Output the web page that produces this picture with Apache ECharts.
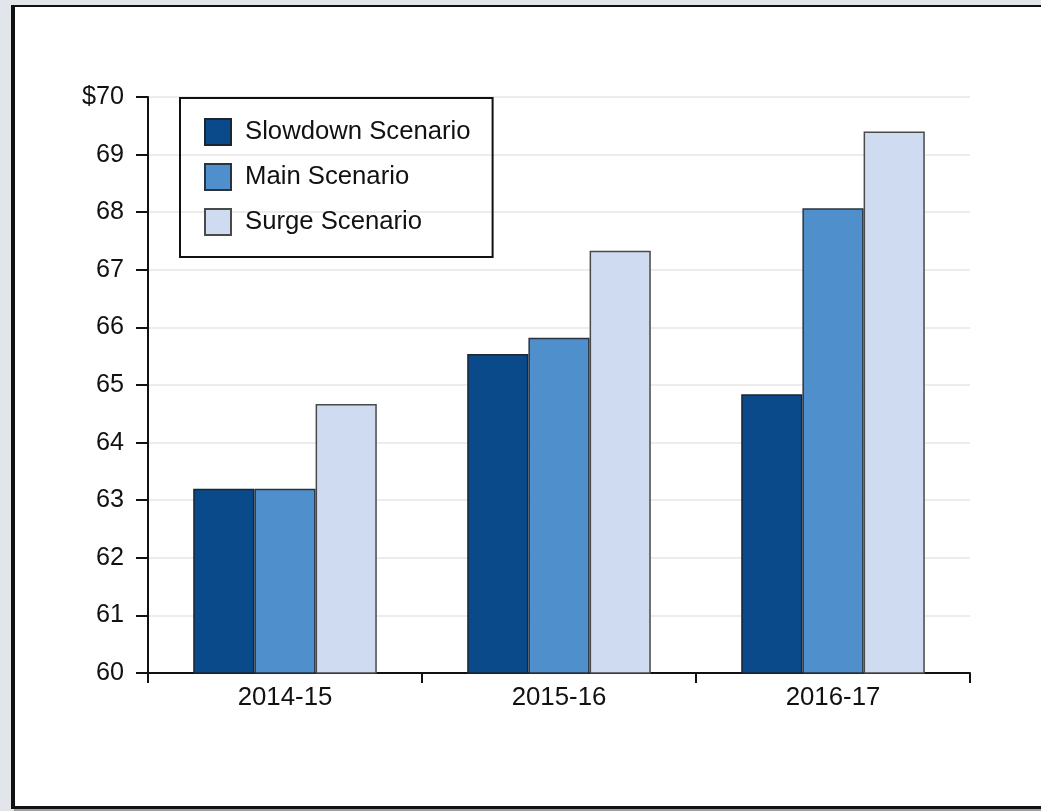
<!DOCTYPE html>
<html>
<head>
<meta charset="utf-8">
<script src="https://cdn.jsdelivr.net/npm/echarts@6/dist/echarts.min.js"></script>
<style>
  html, body { margin: 0; padding: 0; width: 1041px; height: 811px; background: #e2e6eb; overflow: hidden; }
  #frame {
    position: absolute; left: 11px; top: 5px; width: 1040px; height: 799px;
    background: #ffffff;
    border-left: 4px solid #111; border-top: 2px solid #111; border-bottom: 3px solid #111;
    box-shadow: 3px 3px 0 #9aa0a6;
  }
  #chart { position: absolute; left: 0; top: 0; width: 1041px; height: 811px; }
</style>
</head>
<body>
<div id="frame"></div>
<div id="chart"></div>
<script>
// Fiscal years on the category axis
const categories = ['2014-15', '2015-16', '2016-17'];

// Projected values under each scenario (dollars)
const slowdown = [63.2, 65.54, 64.84];
const main = [63.2, 65.82, 68.07];
const surge = [64.67, 67.33, 69.4];

const seriesNames = ['Slowdown Scenario', 'Main Scenario', 'Surge Scenario'];

const fontFamily = '"Liberation Sans", Arial, Helvetica, sans-serif';
const textColor = '#111111';

const chart = echarts.init(document.getElementById('chart'), null, { renderer: 'canvas' });

function barSeries(name, data, color, border) {
  return {
    name: name,
    type: 'bar',
    data: data,
    barGap: '0%',
    barCategoryGap: '33%',
    itemStyle: { color: color, borderColor: border, borderWidth: 1.5 },
    emphasis: { disabled: true }
  };
}

chart.setOption({
  backgroundColor: 'transparent',
  animation: false,
  textStyle: { fontFamily: fontFamily, color: textColor },
  grid: { left: 148, right: 71, top: 97, bottom: 138, containLabel: false },
  legend: {
    orient: 'vertical',
    left: 180,
    top: 98,
    padding: [20, 22, 21, 24],
    itemGap: 17,
    itemWidth: 26,
    itemHeight: 26,
    borderColor: '#111',
    borderWidth: 2,
    icon: 'rect',
    selectedMode: false,
    data: seriesNames,
    textStyle: { fontFamily: fontFamily, fontSize: 25.7, color: textColor, lineHeight: 26, padding: [0, 0, 0, 9] }
  },
  xAxis: {
    type: 'category',
    data: categories,
    axisLine: { lineStyle: { color: '#111', width: 2 } },
    axisTick: { show: true, length: 10, lineStyle: { color: '#111', width: 2 } },
    axisLabel: { fontSize: 25.8, color: textColor, margin: 12, fontFamily: fontFamily },
    splitLine: { show: false }
  },
  yAxis: {
    type: 'value',
    min: 60,
    max: 70,
    interval: 1,
    axisLine: { show: true, lineStyle: { color: '#111', width: 2 } },
    axisTick: { show: true, length: 12, lineStyle: { color: '#111', width: 2 } },
    axisLabel: {
      fontSize: 25.2, color: textColor, margin: 24, fontFamily: fontFamily,
      formatter: function (v) { return v === 70 ? '$70' : String(v); }
    },
    splitLine: { show: true, lineStyle: { color: '#e6e6e6', width: 1.5 } }
  },
  series: [
    barSeries(seriesNames[0], slowdown, '#0b4a8a', '#1b2633'),
    barSeries(seriesNames[1], main, '#4f8fcc', '#2a3440'),
    barSeries(seriesNames[2], surge, '#cfdbf0', '#4a4a4a')
  ]
});
</script>
</body>
</html>
